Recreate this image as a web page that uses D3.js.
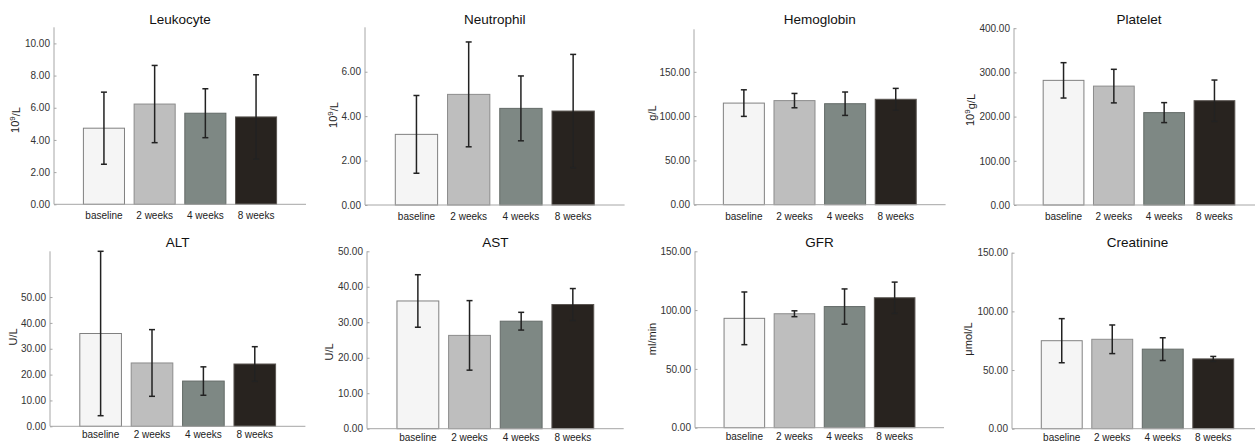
<!DOCTYPE html>
<html>
<head>
<meta charset="utf-8">
<script src="https://cdn.jsdelivr.net/npm/d3@7"></script>
<style>
  html, body { margin: 0; padding: 0; background: #fff; }
  svg { display: block; font-family: "Liberation Sans", Arial, sans-serif; }
</style>
</head>
<body>
<svg id="chart" width="1255" height="443"></svg>
<script>
// ---------- DATA ----------
const categories = ["baseline", "2 weeks", "4 weeks", "8 weeks"];
const titles = ["Leukocyte", "Neutrophil", "Hemoglobin", "Platelet", "ALT", "AST", "GFR", "Creatinine"];
const units = ["10^9/L", "10^9/L", "g/L", "10^9g/L", "U/L", "U/L", "ml/min", "μmol/L"];

const leukocyteMean = [4.73, 6.23, 5.66, 5.43];
const leukocyteSD   = [2.24, 2.40, 1.52, 2.62];
const neutrophilMean = [3.18, 4.98, 4.35, 4.23];
const neutrophilSD   = [1.75, 2.36, 1.46, 2.55];
const hemoglobinMean = [114.7, 117.5, 114.0, 119.0];
const hemoglobinSD   = [15.0, 8.1, 13.2, 12.3];
const plateletMean = [282, 269, 209, 236];
const plateletSD   = [40, 38, 22.6, 46.7];
const altMean = [35.9, 24.5, 17.5, 24.1];
const altSD   = [31.8, 12.9, 5.5, 6.7];
const astMean = [36.0, 26.3, 30.3, 35.0];
const astSD   = [7.4, 9.8, 2.5, 4.5];
const gfrMean = [93.0, 96.9, 103.0, 110.5];
const gfrSD   = [22.4, 2.5, 15.0, 13.3];
const creatinineMean = [75.0, 76.2, 67.8, 59.5];
const creatinineSD   = [18.8, 12.2, 9.7, 2.1];

const means = [leukocyteMean, neutrophilMean, hemoglobinMean, plateletMean, altMean, astMean, gfrMean, creatinineMean];
const sds = [leukocyteSD, neutrophilSD, hemoglobinSD, plateletSD, altSD, astSD, gfrSD, creatinineSD];

const yMax = [11, 8, 198, 400, 67.7, 50, 150, 150];
const yTicks = [
  [0, 2, 4, 6, 8, 10],
  [0, 2, 4, 6],
  [0, 50, 100, 150],
  [0, 100, 200, 300, 400],
  [0, 10, 20, 30, 40, 50],
  [0, 10, 20, 30, 40, 50],
  [0, 50, 100, 150],
  [0, 50, 100, 150]
];

// ---------- LAYOUT (pixels) ----------
// [axisX, xEnd, yTop, yBottom, unitLabelX, unitLabelY]
const layout = [
  [54,   306,  27.3, 204.3, 15,   120],
  [365,  624.6,27.3, 205,   333,  115],
  [694,  945.6,29.3, 204.7, 652,  113],
  [1014, 1264, 28.2, 205,   970,  110],
  [50,   305.4,251.3,426.3, 13,   337],
  [367,  623.7,251.3,428.7, 329,  352],
  [695,  944,  251.3,427.7, 652,  339],
  [1012, 1263, 252.7,428.7, 968,  339]
];
const fills   = ["#f5f5f5", "#bebebe", "#7e8884", "#28231f"];
const strokes = ["#808080", "#8c8c8c", "#636a67", "#5a5551"];

const svg = d3.select("#chart");

titles.forEach((title, i) => {
  const [x0, x1, yTop, yBot, lx, ly] = layout[i];
  const row = i < 4 ? 0 : 1;
  const g = svg.append("g");

  const x = d3.scaleBand().domain(categories).range([x0, x1])
    .paddingInner(0.19).paddingOuter(0.58);
  const y = d3.scaleLinear().domain([0, yMax[i]]).range([yBot, yTop]);

  // bars
  const data = categories.map((c, k) => ({ c, m: means[i][k], s: sds[i][k], k }));
  g.selectAll("rect.bar").data(data).enter().append("rect")
    .attr("class", "bar")
    .attr("x", d => x(d.c))
    .attr("width", x.bandwidth())
    .attr("y", d => y(d.m))
    .attr("height", d => y(0) - y(d.m))
    .attr("fill", d => fills[d.k])
    .attr("stroke", d => strokes[d.k])
    .attr("stroke-width", 1);

  // error bars
  const eb = g.selectAll("g.err").data(data).enter().append("g").attr("class", "err");
  const cx = d => x(d.c) + x.bandwidth() / 2;
  eb.append("line")
    .attr("x1", cx).attr("x2", cx)
    .attr("y1", d => y(d.m + d.s)).attr("y2", d => y(Math.max(0, d.m - d.s)))
    .attr("stroke", "#222").attr("stroke-width", 1.5);
  eb.append("line")
    .attr("x1", d => cx(d) - 3).attr("x2", d => cx(d) + 3)
    .attr("y1", d => y(d.m + d.s)).attr("y2", d => y(d.m + d.s))
    .attr("stroke", "#222").attr("stroke-width", 1.5);
  eb.append("line")
    .attr("x1", d => cx(d) - 3).attr("x2", d => cx(d) + 3)
    .attr("y1", d => y(Math.max(0, d.m - d.s))).attr("y2", d => y(Math.max(0, d.m - d.s)))
    .attr("stroke", "#222").attr("stroke-width", 1.5);

  // y axis
  const yAxis = d3.axisLeft(y).tickValues(yTicks[i]).tickFormat(d3.format(".2f"))
    .tickSizeInner(-2.5).tickSizeOuter(0).tickPadding(4);
  const ya = g.append("g").attr("transform", `translate(${x0},0)`).call(yAxis);
  ya.select(".domain").remove();
  ya.append("line").attr("x1", 0).attr("x2", 0).attr("y1", yTop).attr("y2", yBot)
    .attr("stroke", "#a6a6a6");
  ya.selectAll(".tick line").attr("stroke", "#a6a6a6");
  ya.selectAll(".tick text").attr("fill", "#333").style("font-size", "10px")
    .style("font-family", "Liberation Sans, Arial, sans-serif");

  // x axis
  const xAxis = d3.axisBottom(x).tickSize(0).tickPadding(row === 0 ? 8 : 5);
  const xa = g.append("g").attr("transform", `translate(0,${yBot})`).call(xAxis);
  xa.select(".domain").remove();
  xa.append("line").attr("x1", x0).attr("x2", x1).attr("y1", 0).attr("y2", 0)
    .attr("stroke", "#a6a6a6");
  xa.selectAll(".tick text").attr("fill", "#222").style("font-size", "10px")
    .style("font-family", "Liberation Sans, Arial, sans-serif");

  // title
  g.append("text")
    .attr("x", (x0 + x1) / 2)
    .attr("y", row === 0 ? 24 : 247)
    .attr("text-anchor", "middle")
    .attr("fill", "#111")
    .style("font-size", "13.5px")
    .text(title);

  // unit label (rotated), with superscript
  const ut = g.append("text")
    .attr("transform", `translate(${lx},${ly}) rotate(-90)`)
    .attr("text-anchor", "middle")
    .attr("dy", "0.35em")
    .attr("fill", "#222")
    .style("font-size", "11px");
  const u = units[i];
  if (u.startsWith("10^9")) {
    ut.append("tspan").text("10");
    ut.append("tspan").attr("dy", "-0.45em").style("font-size", "8px").text("9");
    ut.append("tspan").attr("dy", "0.45em").text(u.slice(4));
  } else {
    ut.text(u);
  }
});
</script>
</body>
</html>
